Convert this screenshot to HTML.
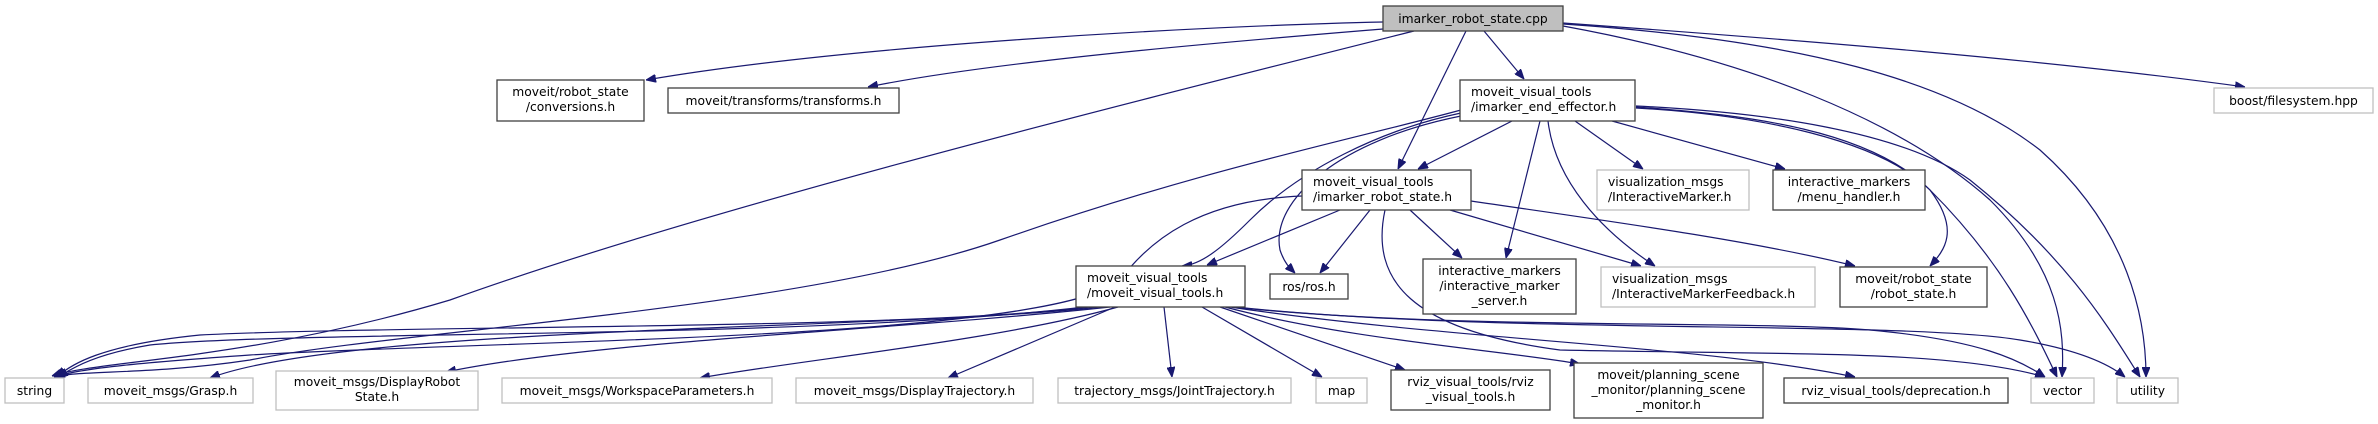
<!DOCTYPE html>
<html><head><meta charset="utf-8"><style>
html,body{margin:0;padding:0;background:#fff;}
svg{display:block;}
text{font-family:"DejaVu Sans","Liberation Sans",sans-serif;font-size:12.3px;fill:#000;}
.e{fill:none;stroke:#191970;stroke-width:1.2;}
.b{fill:#fff;stroke:#404040;stroke-width:1.3;}
.g{fill:#fff;stroke:#bfbfbf;stroke-width:1.3;}
</style></head><body>
<svg width="2378" height="424" viewBox="0 0 2378 424" xmlns="http://www.w3.org/2000/svg">
<defs>
<marker id="a" viewBox="0 0 10 8" refX="10" refY="4" markerWidth="10" markerHeight="8" markerUnits="userSpaceOnUse" orient="auto">
<path d="M0,0 L10,4 L0,8 z" fill="#191970" stroke="#191970"/>
</marker>
</defs>
<g class="e" marker-end="url(#a)">
<!-- root edges -->
<path d="M1383,22 C1200,26 850,45 646,80"/>
<path d="M1383,29 C1250,40 1000,60 868,87"/>
<path d="M1414,31 C1100,110 700,210 450,300 C250,360 100,360 52,376"/>
<path d="M1466,31 L1398,169"/>
<path d="M1484,31 L1524,79"/>
<path d="M1563,23 C1800,40 2050,60 2245,87"/>
<path d="M1563,26 C1750,60 1900,120 1990,200 C2060,270 2065,330 2062,377"/>
<path d="M1563,24 C1800,40 1950,80 2040,150 C2130,230 2146,320 2146,377"/>
<!-- end effector edges -->
<path d="M1512,121 L1418,169"/>
<path d="M1461,113 C1380,130 1300,170 1250,220 C1220,250 1200,265 1182,266"/>
<path d="M1461,110 C1350,140 1200,170 1000,240 C800,310 400,330 250,360 C150,375 80,370 54,377"/>
<path d="M1461,116 C1340,140 1270,200 1280,250 C1285,265 1292,270 1295,273"/>
<path d="M1540,121 L1506,258"/>
<path d="M1548,121 C1555,180 1600,230 1655,266"/>
<path d="M1575,121 L1643,169"/>
<path d="M1612,121 L1785,169"/>
<path d="M1636,107 C1750,115 1870,130 1930,190 C1960,230 1945,250 1930,266"/>
<path d="M1636,108 C1760,115 1880,140 1930,190 C2000,260 2030,320 2057,377"/>
<path d="M1636,106 C1760,112 1900,130 1970,180 C2070,260 2110,330 2140,377"/>
<!-- imarker_robot_state.h -->
<path d="M1340,210 L1207,265"/>
<path d="M1370,210 L1320,273"/>
<path d="M1410,210 L1462,258"/>
<path d="M1450,210 L1641,266"/>
<path d="M1471,201 C1600,220 1750,240 1855,266"/>
<path d="M1302,196 C1200,200 1150,240 1120,280 C1050,340 500,340 250,355 C150,362 80,368 55,377"/>
<path d="M1385,210 C1370,280 1410,330 1560,350 C1800,355 1950,350 2045,377"/>
<!-- moveit_visual_tools.h -->
<path d="M1090,307 C900,330 400,325 200,335 C100,345 70,365 57,377"/>
<path d="M1085,307 C800,340 300,330 150,345 C90,355 70,370 58,377"/>
<path d="M1100,307 C900,330 350,325 210,378"/>
<path d="M1110,307 C900,330 600,340 446,372"/>
<path d="M1118,307 C1000,340 800,360 700,378"/>
<path d="M1115,307 L948,378"/>
<path d="M1164,307 L1172,377"/>
<path d="M1202,307 L1322,377"/>
<path d="M1220,307 L1405,370"/>
<path d="M1225,307 C1350,340 1500,350 1580,364"/>
<path d="M1230,307 C1450,340 1700,345 1855,377"/>
<path d="M1232,307 C1450,330 1750,320 1870,330 C1980,340 2020,360 2045,377"/>
<path d="M1235,307 C1500,335 1900,320 2020,340 C2080,350 2110,365 2125,377"/>
</g>
<!-- nodes -->
<rect x="1383" y="6" width="180" height="25" fill="#bfbfbf" stroke="#404040" stroke-width="1.3"/>
<text x="1473" y="23" text-anchor="middle">imarker_robot_state.cpp</text>

<rect class="b" x="497" y="80" width="147" height="41"/>
<text x="570.5" y="96" text-anchor="middle">moveit/robot_state</text>
<text x="570.5" y="111" text-anchor="middle">/conversions.h</text>

<rect class="b" x="668" y="88" width="231" height="25"/>
<text x="783.5" y="105" text-anchor="middle">moveit/transforms/transforms.h</text>

<rect class="b" x="1460" y="80" width="175" height="41"/>
<text x="1471" y="96">moveit_visual_tools</text>
<text x="1471" y="111">/imarker_end_effector.h</text>

<rect class="g" x="2214" y="88" width="159" height="25"/>
<text x="2293.5" y="105" text-anchor="middle">boost/filesystem.hpp</text>

<rect class="b" x="1302" y="170" width="169" height="40"/>
<text x="1313" y="186">moveit_visual_tools</text>
<text x="1313" y="201">/imarker_robot_state.h</text>

<rect class="g" x="1597" y="170" width="152" height="40"/>
<text x="1608" y="186">visualization_msgs</text>
<text x="1608" y="201">/InteractiveMarker.h</text>

<rect class="b" x="1773" y="170" width="152" height="40"/>
<text x="1849" y="186" text-anchor="middle">interactive_markers</text>
<text x="1849" y="201" text-anchor="middle">/menu_handler.h</text>

<rect class="b" x="1076" y="266" width="169" height="41"/>
<text x="1087" y="282">moveit_visual_tools</text>
<text x="1087" y="297">/moveit_visual_tools.h</text>

<rect class="b" x="1270" y="274" width="78" height="25"/>
<text x="1309" y="291" text-anchor="middle">ros/ros.h</text>

<rect class="b" x="1423" y="259" width="153" height="55"/>
<text x="1499.5" y="275" text-anchor="middle">interactive_markers</text>
<text x="1499.5" y="290" text-anchor="middle">/interactive_marker</text>
<text x="1499.5" y="305" text-anchor="middle">_server.h</text>

<rect class="g" x="1601" y="267" width="214" height="40"/>
<text x="1612" y="283">visualization_msgs</text>
<text x="1612" y="298">/InteractiveMarkerFeedback.h</text>

<rect class="b" x="1840" y="267" width="147" height="40"/>
<text x="1913.5" y="283" text-anchor="middle">moveit/robot_state</text>
<text x="1913.5" y="298" text-anchor="middle">/robot_state.h</text>

<!-- bottom row -->
<rect class="g" x="5" y="378" width="59" height="25"/>
<text x="34.5" y="395" text-anchor="middle">string</text>

<rect class="g" x="88" y="378" width="165" height="25"/>
<text x="170.5" y="395" text-anchor="middle">moveit_msgs/Grasp.h</text>

<rect class="g" x="276" y="371" width="202" height="39"/>
<text x="377" y="386" text-anchor="middle">moveit_msgs/DisplayRobot</text>
<text x="377" y="401" text-anchor="middle">State.h</text>

<rect class="g" x="502" y="378" width="270" height="25"/>
<text x="637" y="395" text-anchor="middle">moveit_msgs/WorkspaceParameters.h</text>

<rect class="g" x="796" y="378" width="237" height="25"/>
<text x="914.5" y="395" text-anchor="middle">moveit_msgs/DisplayTrajectory.h</text>

<rect class="g" x="1058" y="378" width="233" height="25"/>
<text x="1174.5" y="395" text-anchor="middle">trajectory_msgs/JointTrajectory.h</text>

<rect class="g" x="1316" y="378" width="51" height="25"/>
<text x="1341.5" y="395" text-anchor="middle">map</text>

<rect class="b" x="1391" y="370" width="159" height="40"/>
<text x="1470.5" y="386" text-anchor="middle">rviz_visual_tools/rviz</text>
<text x="1470.5" y="401" text-anchor="middle">_visual_tools.h</text>

<rect class="b" x="1574" y="363" width="189" height="55"/>
<text x="1668.5" y="379" text-anchor="middle">moveit/planning_scene</text>
<text x="1668.5" y="394" text-anchor="middle">_monitor/planning_scene</text>
<text x="1668.5" y="409" text-anchor="middle">_monitor.h</text>

<rect class="b" x="1784" y="378" width="224" height="25"/>
<text x="1896" y="395" text-anchor="middle">rviz_visual_tools/deprecation.h</text>

<rect class="g" x="2031" y="378" width="63" height="25"/>
<text x="2062.5" y="395" text-anchor="middle">vector</text>

<rect class="g" x="2117" y="378" width="61" height="25"/>
<text x="2147.5" y="395" text-anchor="middle">utility</text>
</svg>
</body></html>
